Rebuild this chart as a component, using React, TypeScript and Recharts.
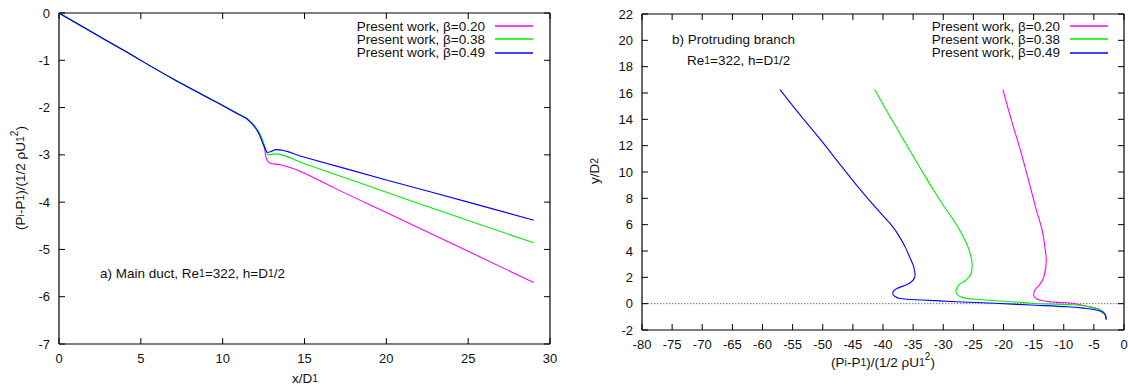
import React from 'react';
import { LineChart, Line, XAxis, YAxis, ReferenceLine, Legend } from 'recharts';

const FONT = '"Liberation Sans", Arial, Helvetica, sans-serif';
const INK = '#111';

// a) main duct: pressure drop along x/D1
const mainTicksX = [0, 5, 10, 15, 20, 25, 30];
const mainTicksY = [0, -1, -2, -3, -4, -5, -6, -7];

const mainX020 = [0, 2, 4, 7, 9, 10.8, 11.65, 12.2, 12.53, 12.67, 12.87, 13.5, 14.3, 15, 16, 17, 20, 25, 29];
const mainP020 = [0, -0.4, -0.8, -1.4, -1.77, -2.11, -2.29, -2.54, -2.82, -3.08, -3.17, -3.21, -3.29, -3.39, -3.56, -3.73, -4.22, -5.04, -5.7];

const mainX038 = [0, 2, 4, 7, 9, 10.8, 11.7, 12.25, 12.58, 12.77, 13.2, 15, 20, 25, 29];
const mainP038 = [0, -0.4, -0.8, -1.4, -1.77, -2.11, -2.29, -2.54, -2.82, -3.0, -2.98, -3.19, -3.79, -4.39, -4.86];

const mainX049 = [0, 2, 4, 7, 9, 10.8, 11.65, 12.2, 12.53, 12.75, 13.3, 15, 20, 25, 29];
const mainP049 = [0, -0.4, -0.8, -1.4, -1.77, -2.11, -2.29, -2.54, -2.82, -2.95, -2.89, -3.05, -3.53, -4.0, -4.38];

// b) protruding branch: y/D2 against pressure
const branchTicksX = [-80, -75, -70, -65, -60, -55, -50, -45, -40, -35, -30, -25, -20, -15, -10, -5, 0];
const branchTicksY = [-2, 0, 2, 4, 6, 8, 10, 12, 14, 16, 18, 20, 22];

const branchP020 = [-20.1, -18.6, -17.2, -15.4, -14.6, -13.6, -13.1, -12.9, -13.3, -14.0, -14.8, -15.0, -14.6, -13.9, -11.2, -9.4, -7.5, -5.8, -4.3, -3.4, -3.05, -2.95];
const branchY020 = [16.26, 13.8, 11.66, 8.6, 7.2, 5.6, 4.2, 3.3, 2.04, 1.45, 1.04, 0.65, 0.4, 0.27, 0.1, 0.07, -0.06, -0.23, -0.4, -0.62, -0.9, -1.22];

const branchP038 = [-41.4, -38.7, -35.9, -33.3, -31.6, -29.9, -28.3, -26.7, -25.7, -25.2, -25.3, -25.7, -26.5, -27.45, -27.9, -27.7, -26.85, -24.5, -21.4, -17, -12.4, -8.4, -5.5, -4.2, -3.4, -3.05, -2.95];
const branchY038 = [16.26, 14.1, 11.9, 9.9, 8.62, 7.4, 6.35, 5.1, 4.07, 2.93, 2.4, 2.04, 1.7, 1.41, 0.95, 0.7, 0.48, 0.33, 0.22, 0.1, -0.03, -0.08, -0.25, -0.42, -0.62, -0.9, -1.22];

const branchP049 = [-57.1, -53.7, -50.3, -47.0, -43.7, -41.9, -40.1, -38.4, -37.1, -36.2, -35.6, -34.9, -34.67, -35.0, -36.0, -37.68, -38.4, -38.0, -37.38, -36.07, -33.5, -28, -21.4, -15.5, -9.4, -6.5, -4.6, -3.6, -3.1, -2.95];
const branchY049 = [16.26, 14.3, 12.42, 10.5, 8.62, 7.65, 6.73, 5.85, 4.96, 4.2, 3.56, 2.8, 2.17, 1.79, 1.45, 1.16, 0.8, 0.55, 0.41, 0.33, 0.28, 0.15, 0.03, -0.1, -0.23, -0.35, -0.48, -0.65, -0.86, -1.2];

const seriesNames = ['Present work, \u03b2=0.20', 'Present work, \u03b2=0.38', 'Present work, \u03b2=0.49'];
const seriesColors = ['#ff00ff', '#00ee00', '#0000ff'];

const zipMain = (xs: number[], ps: number[]) => xs.map((x, i) => ({ x, p: ps[i] }));
const zipBranch = (ps: number[], ys: number[]) => ps.map((p, i) => ({ p, y: ys[i] }));

const mainData = [zipMain(mainX020, mainP020), zipMain(mainX038, mainP038), zipMain(mainX049, mainP049)];
const branchData = [zipBranch(branchP020, branchY020), zipBranch(branchP038, branchY038), zipBranch(branchP049, branchY049)];

// gnuplot style: tick marks pointing inwards on every side
const BottomTick = ({ x, y, payload }: any) => (
  <g>
    <line x1={x} y1={y} x2={x} y2={y - 6} stroke="#000" />
    <text x={x} y={y + 14} textAnchor="middle" dominantBaseline="central" fontSize={13} fontFamily={FONT} fill={INK}>
      {payload.value}
    </text>
  </g>
);
const TopTick = ({ x, y }: any) => <line x1={x} y1={y} x2={x} y2={y + 6} stroke="#000" />;
const LeftTick = ({ x, y, payload }: any) => (
  <g>
    <line x1={x} y1={y} x2={x + 6} y2={y} stroke="#000" />
    <text x={x - 9} y={y} textAnchor="end" dominantBaseline="central" fontSize={13} fontFamily={FONT} fill={INK}>
      {payload.value}
    </text>
  </g>
);
const RightTick = ({ x, y }: any) => <line x1={x} y1={y} x2={x - 6} y2={y} stroke="#000" />;

const KeyBox = ({ payload }: any) => (
  <div style={{ fontFamily: FONT, fontSize: 13.5, color: INK }}>
    {(payload || []).map((e: any) => (
      <div key={e.value} style={{ display: 'flex', justifyContent: 'flex-end', alignItems: 'center', height: 13.3 }}>
        <span style={{ lineHeight: '13.3px', whiteSpace: 'nowrap' }}>{e.value}</span>
        <svg width={38} height={4} style={{ marginLeft: 10 }}>
          <line x1={0} y1={2} x2={38} y2={2} stroke={e.color} strokeWidth={1.3} />
        </svg>
      </div>
    ))}
  </div>
);

const axisLine = { stroke: '#000', strokeWidth: 1.2 };
const sub = (t: string) => <tspan fontSize={10.5}>{t}</tspan>;

const MainDuct = () => (
  <LineChart width={560} height={387} margin={{ top: 0, right: 0, bottom: 13, left: 0 }}>
    <XAxis xAxisId="b" type="number" dataKey="x" domain={[0, 30]} ticks={mainTicksX} interval={0}
      allowDataOverflow tickSize={0} tickMargin={0} tickLine={false} axisLine={axisLine} tick={<BottomTick />} height={30} />
    <XAxis xAxisId="t" orientation="top" type="number" dataKey="x" domain={[0, 30]} ticks={mainTicksX} interval={0}
      allowDataOverflow tickSize={0} tickMargin={0} tickLine={false} axisLine={axisLine} tick={<TopTick />} height={13} />
    <YAxis yAxisId="l" type="number" domain={[-7, 0]} ticks={mainTicksY} interval={0}
      allowDataOverflow tickSize={0} tickMargin={0} tickLine={false} axisLine={axisLine} tick={<LeftTick />} width={59} />
    <YAxis yAxisId="r" orientation="right" type="number" domain={[-7, 0]} ticks={mainTicksY} interval={0}
      allowDataOverflow tickSize={0} tickMargin={0} tickLine={false} axisLine={axisLine} tick={<RightTick />} width={10} />
    {mainData.map((d, i) => (
      <Line key={i} xAxisId="b" yAxisId="l" data={d} dataKey="p" name={seriesNames[i]} type="monotoneX"
        stroke={seriesColors[i]} strokeWidth={1.1} dot={false} isAnimationActive={false} />
    ))}
    <Legend layout="vertical" align="center" verticalAlign="middle" content={<KeyBox />}
      wrapperStyle={{ left: 293, top: 19.5, width: 240 }} />
    <text x={100} y={273} dominantBaseline="central" fontSize={13.5} fontFamily={FONT} fill={INK}>
      a) Main duct, Re{sub('1')}=322, h=D{sub('1')}/2
    </text>
    <text x={305} y={378} textAnchor="middle" dominantBaseline="central" fontSize={13.5} fontFamily={FONT} fill={INK}>
      x/D{sub('1')}
    </text>
    <text x={20} y={178} transform="rotate(-90 20 178)" textAnchor="middle" dominantBaseline="central" fontSize={13.5} fontFamily={FONT} fill={INK}>
      (P{sub('i')}-P{sub('1')})/(1/2 {'\u03c1'}U{sub('1')}<tspan fontSize={10} dy={-6}>2</tspan><tspan dy={6}>)</tspan>
    </text>
  </LineChart>
);

const Branch = () => (
  <LineChart width={568} height={387} margin={{ top: 0, right: 0, bottom: 27, left: 0 }}>
    <XAxis xAxisId="b" type="number" dataKey="p" domain={[-80, 0]} ticks={branchTicksX} interval={0}
      allowDataOverflow tickSize={0} tickMargin={0} tickLine={false} axisLine={axisLine} tick={<BottomTick />} height={30} />
    <XAxis xAxisId="t" orientation="top" type="number" dataKey="p" domain={[-80, 0]} ticks={branchTicksX} interval={0}
      allowDataOverflow tickSize={0} tickMargin={0} tickLine={false} axisLine={axisLine} tick={<TopTick />} height={14} />
    <YAxis yAxisId="l" type="number" dataKey="y" domain={[-2, 22]} ticks={branchTicksY} interval={0}
      allowDataOverflow tickSize={0} tickMargin={0} tickLine={false} axisLine={axisLine} tick={<LeftTick />} width={82} />
    <YAxis yAxisId="r" orientation="right" type="number" dataKey="y" domain={[-2, 22]} ticks={branchTicksY} interval={0}
      allowDataOverflow tickSize={0} tickMargin={0} tickLine={false} axisLine={axisLine} tick={<RightTick />} width={4} />
    <ReferenceLine xAxisId="b" yAxisId="l" y={0} stroke="#777" strokeWidth={1} strokeDasharray="1.5 1.5" />
    {branchData.map((d, i) => (
      <Line key={i} xAxisId="b" yAxisId="l" data={d} dataKey="y" name={seriesNames[i]} type="monotoneY"
        stroke={seriesColors[i]} strokeWidth={1.1} dot={false} isAnimationActive={false} />
    ))}
    <Legend layout="vertical" align="center" verticalAlign="middle" content={<KeyBox />}
      wrapperStyle={{ left: 308, top: 19.5, width: 240 }} />
    <text x={112} y={39.5} dominantBaseline="central" fontSize={13.5} fontFamily={FONT} fill={INK}>
      b) Protruding branch
    </text>
    <text x={127} y={60} dominantBaseline="central" fontSize={13.5} fontFamily={FONT} fill={INK}>
      Re{sub('1')}=322, h=D{sub('1')}/2
    </text>
    <text x={34} y={171} transform="rotate(-90 34 171)" textAnchor="middle" dominantBaseline="central" fontSize={13.5} fontFamily={FONT} fill={INK}>
      y/D{sub('2')}
    </text>
    <text x={323} y={362} textAnchor="middle" dominantBaseline="central" fontSize={13.5} fontFamily={FONT} fill={INK}>
      (P{sub('i')}-P{sub('1')})/(1/2 {'\u03c1'}U{sub('1')}<tspan fontSize={10} dy={-6}>2</tspan><tspan dy={6}>)</tspan>
    </text>
  </LineChart>
);

export default function App() {
  return (
    <div style={{ position: 'absolute', left: 0, top: 0, width: 1128, height: 387, background: '#fff' }}>
      <div style={{ position: 'absolute', left: 0, top: 0 }}>
        <MainDuct />
      </div>
      <div style={{ position: 'absolute', left: 560, top: 0 }}>
        <Branch />
      </div>
    </div>
  );
}
